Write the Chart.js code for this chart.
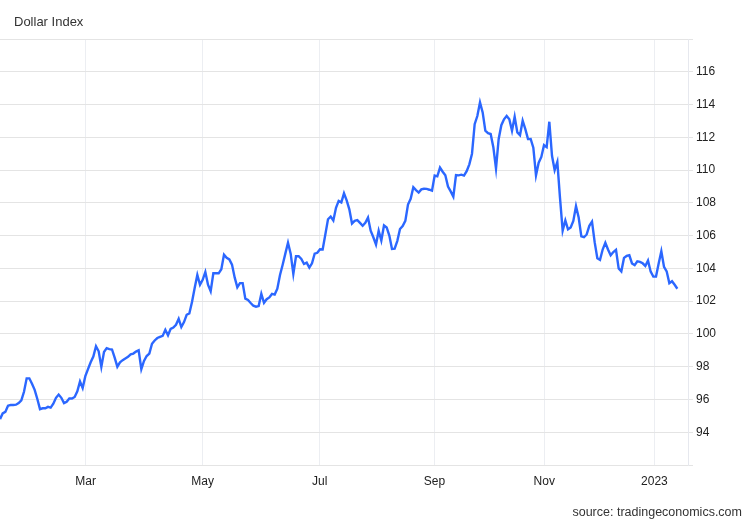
<!DOCTYPE html>
<html>
<head>
<meta charset="utf-8">
<script src="https://cdn.jsdelivr.net/npm/chart.js@4.4.1/dist/chart.umd.min.js"></script>
<style>
  body { margin: 0; background: #fff; }
  #wrap { position: relative; width: 750px; height: 520px; }
  .note { position: absolute; font-family: 'Liberation Sans', Arial, sans-serif; color: #333; white-space: nowrap; }
  #title { left: 14px; top: 15px; font-size: 13px; line-height: 13px; }
  #source { right: 8px; top: 506px; font-size: 12.5px; line-height: 12px; }
</style>
</head>
<body>
<div id="wrap">
  <canvas id="dxChart" width="750" height="520"></canvas>
  <div class="note" id="title">Dollar Index</div>
  <div class="note" id="source">source: tradingeconomics.com</div>
</div>
<script>
// daily closes, one per trading day (mid Jan 2022 -> early Jan 2023)
const dollarIndex = [
  94.8, 95.15, 95.24, 95.62, 95.66, 95.66, 95.68, 95.78, 95.95, 96.47,
  97.29, 97.29, 96.96, 96.59, 96.03, 95.41, 95.46, 95.46, 95.55, 95.5,
  95.74, 96.1, 96.3, 96.1, 95.78, 95.86, 96.06, 96.06, 96.15, 96.5,
  97.1, 96.7, 97.42, 97.85, 98.27, 98.62, 99.25, 98.94, 97.99, 98.9,
  99.13, 99.07, 99.05, 98.55, 98.0, 98.27, 98.4, 98.5, 98.6, 98.75,
  98.8, 98.92, 99.0, 97.85, 98.35, 98.65, 98.8, 99.4, 99.6, 99.75,
  99.82, 99.88, 100.25, 99.92, 100.31, 100.39, 100.56, 100.92, 100.42, 100.72,
  101.17, 101.25, 101.95, 102.8, 103.6, 103.0, 103.3, 103.78, 103.0, 102.6,
  103.7, 103.7, 103.7, 103.95, 104.84, 104.65, 104.55, 104.23, 103.45, 102.85,
  103.1, 103.1, 102.15, 102.07, 101.89, 101.72, 101.66, 101.7, 102.45, 101.9,
  102.12, 102.23, 102.44, 102.4, 102.76, 103.6, 104.22, 104.9, 105.56, 104.9,
  103.66, 104.74, 104.74, 104.58, 104.27, 104.35, 104.05, 104.31, 104.9, 104.95,
  105.17, 105.15, 106.07, 107.0, 107.16, 106.92, 107.7, 108.12, 108.03, 108.58,
  108.15, 107.6, 106.74, 106.9, 106.95, 106.78, 106.6, 106.78, 107.1, 106.3,
  105.9, 105.46, 106.3, 105.7, 106.62, 106.5, 106.0, 105.19, 105.2, 105.68,
  106.4, 106.58, 106.9, 107.9, 108.25, 108.95, 108.78, 108.63, 108.82, 108.86,
  108.85, 108.8, 108.74, 109.67, 109.62, 110.15, 109.9, 109.68, 108.99, 108.7,
  108.38, 109.7, 109.68, 109.72, 109.66, 109.93, 110.35, 111.0, 112.8, 113.3,
  114.13, 113.52, 112.4, 112.25, 112.2, 111.4, 110.1, 111.9, 112.74, 113.1,
  113.3, 113.1, 112.4, 113.25, 112.3, 112.13, 113.01, 112.5, 111.89, 111.9,
  111.37, 109.68, 110.45, 110.8, 111.52, 111.4, 112.95, 110.87, 110.0, 110.5,
  108.3, 106.31, 106.93, 106.38, 106.5, 106.9, 107.8, 107.1, 105.95, 105.9,
  106.07, 106.6, 106.85, 105.6, 104.62, 104.52, 105.15, 105.56, 105.15, 104.8,
  105.0, 105.13, 104.0, 103.82, 104.64, 104.76, 104.8, 104.3, 104.2, 104.43,
  104.4, 104.31, 104.15, 104.48, 103.8, 103.5, 103.5, 104.3, 105.05, 104.1,
  103.82, 103.1, 103.22, 103.0, 102.76
];

// month boundaries, in trading-day index, and their labels
const monthTickIdx = [32.1, 76.0, 119.9, 162.9, 204.1, 245.4];
const monthTickLabels = ['Mar', 'May', 'Jul', 'Sep', 'Nov', '2023'];

// value axis
const valueMin = 92;
const valueMax = 118;
const valueStep = 2;
const valueLabelRange = [94, 116];

// x extent of the plot in trading days
const dayMax = 258;

const points = dollarIndex.map((v, i) => ({ x: i, y: v }));
const font = { family: "'Liberation Sans', Arial, sans-serif", size: 12 };

const ctx = document.getElementById('dxChart').getContext('2d');
new Chart(ctx, {
  type: 'line',
  data: {
    datasets: [{
      data: points,
      borderColor: '#2b67ff',
      borderWidth: 2.4,
      pointRadius: 0,
      tension: 0,
      fill: false
    }]
  },
  options: {
    responsive: false,
    animation: false,
    layout: { padding: { top: 39, left: 0, right: 0, bottom: 0 } },
    plugins: {
      legend: { display: false },
      tooltip: { enabled: false }
    },
    scales: {
      x: {
        type: 'linear',
        min: 0,
        max: dayMax,
        afterBuildTicks: scale => {
          scale.ticks = monthTickIdx.map(v => ({ value: v }));
        },
        afterFit: scale => { scale.height = 55; },
        ticks: {
          autoSkip: false,
          maxRotation: 0,
          padding: 9,
          color: '#222',
          font: font,
          callback: (v, i) => monthTickLabels[i]
        },
        grid: { color: '#eceef2', drawTicks: false },
        border: { display: false }
      },
      y: {
        position: 'right',
        min: valueMin,
        max: valueMax,
        afterFit: scale => { scale.width = 62; },
        ticks: {
          stepSize: valueStep,
          padding: 3,
          color: '#222',
          font: font,
          // keep the grid line at the ends but no label
          callback: v => (v < valueLabelRange[0] || v > valueLabelRange[1]) ? '' : v
        },
        grid: { color: '#e4e4e4', tickLength: 5 },
        border: { color: '#e6e8ee' }
      }
    }
  }
});
</script>
</body>
</html>
